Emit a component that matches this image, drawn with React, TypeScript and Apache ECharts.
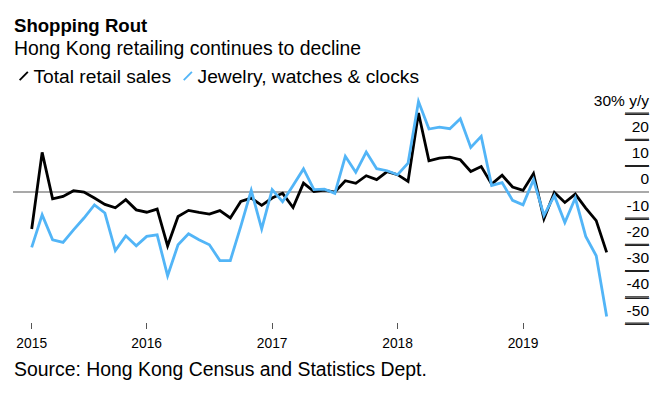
import React, { useEffect, useRef } from "react";
import * as echarts from "echarts";

const months: string[] = [
  "2015-01", "2015-02", "2015-03", "2015-04", "2015-05", "2015-06", "2015-07", "2015-08", "2015-09", "2015-10", "2015-11", "2015-12",
  "2016-01", "2016-02", "2016-03", "2016-04", "2016-05", "2016-06", "2016-07", "2016-08", "2016-09", "2016-10", "2016-11", "2016-12",
  "2017-01", "2017-02", "2017-03", "2017-04", "2017-05", "2017-06", "2017-07", "2017-08", "2017-09", "2017-10", "2017-11", "2017-12",
  "2018-01", "2018-02", "2018-03", "2018-04", "2018-05", "2018-06", "2018-07", "2018-08", "2018-09", "2018-10", "2018-11", "2018-12",
  "2019-01", "2019-02", "2019-03", "2019-04", "2019-05", "2019-06", "2019-07", "2019-08",
];

const totalRetail: number[] = [
  -14.2, 15.0, -2.7, -1.8, 0.4, -0.1, -2.4, -4.8, -6.1, -3.0, -6.9, -7.8,
  -6.6, -20.6, -9.4, -7.1, -7.9, -8.5, -7.2, -10.0, -3.7, -2.4, -5.2, -2.4,
  -0.6, -6.0, 3.3, 0.1, 0.6, -0.1, 4.2, 3.2, 6.1, 4.6, 7.7, 6.5,
  3.9, 30.0, 11.8, 12.8, 13.2, 12.2, 7.7, 9.6, 2.9, 6.3, 1.8, 0.5,
  6.9, -10.3, -0.3, -4.1, -0.9, -6.2, -11.0, -23.1,
];

const jewelry: number[] = [
  -21.2, -8.8, -18.3, -19.3, -14.5, -10.0, -5.0, -8.1, -22.4, -16.8, -20.6, -17.0,
  -16.4, -32.0, -20.2, -16.0, -18.3, -20.2, -26.2, -26.2, -13.2, 0.5, -14.1, 0.8,
  -3.8, 2.4, 8.7, 0.8, 1.0, -0.6, 13.5, 7.4, 15.1, 8.8, 8.0, 6.5,
  10.9, 34.4, 23.9, 24.6, 24.0, 27.8, 16.9, 21.1, 2.4, 3.5, -3.3, -5.0,
  4.6, -9.0, -1.5, -11.7, -2.4, -17.0, -24.4, -47.5,
];

const yearLabels: string[] = ["2015", "2016", "2017", "2018", "2019"];
const seriesNames: string[] = ["Total retail sales", "Jewelry, watches & clocks"];
const yTickValues: number[] = [30, 20, 10, 0, -10, -20, -30, -40, -50];

const FONT = '"Liberation Sans", Arial, Helvetica, sans-serif';
const BLUE = "#52b5f7";

export default function App() {
  const ref = useRef<HTMLDivElement>(null);

  useEffect(() => {
    if (!ref.current) return;
    const chart = echarts.init(ref.current, undefined, { renderer: "svg" });

    const yMin = Math.min(...yTickValues);
    const yMax = Math.max(...yTickValues);
    const yStep = yTickValues[0] - yTickValues[1];
    const xMin = -1.789;
    const xMax = 59.05;
    const tickLen = 24;

    // Jan 1 of each year ~ end of the previous December (points are month-end)
    const yearTickPos = yearLabels.map((y) =>
      Math.max(0, months.indexOf(`${y}-01`) - 1)
    );
    const posToYear: Record<number, string> = {};
    yearTickPos.forEach((p, i) => (posToYear[p] = yearLabels[i]));

    const toPairs = (arr: number[]) => arr.map((v, i) => [i, v]);

    const nSplits = (yMax - yMin) / yStep + 1;
    const zeroOnly = Array.from({ length: nSplits }, (_, i) =>
      yMin + i * yStep === 0 ? "#8c8c8c" : "rgba(0,0,0,0)"
    );

    const slash = "path://M0,8.8 L8.6,0 L10,1.2 L1.4,10 Z";

    const textGraphics: any[] = [
      {
        type: "text",
        x: 14,
        y: 25.2,
        style: {
          text: "Shopping Rout",
          font: `bold 18.6px ${FONT}`,
          fill: "#000",
          verticalAlign: "middle",
        },
      },
      {
        type: "text",
        x: 14,
        y: 48.4,
        style: {
          text: "Hong Kong retailing continues to decline",
          font: `19.4px ${FONT}`,
          fill: "#000",
          verticalAlign: "middle",
        },
      },
      {
        type: "text",
        x: 14,
        y: 369,
        style: {
          text: "Source: Hong Kong Census and Statistics Dept.",
          font: `19.4px ${FONT}`,
          fill: "#000",
          verticalAlign: "middle",
        },
      },
    ];

    chart.setOption({
      animation: false,
      backgroundColor: "#ffffff",
      textStyle: { fontFamily: FONT },
      graphic: textGraphics,
      legend: {
        left: 14,
        top: 61,
        itemWidth: 9.5,
        itemHeight: 10,
        itemGap: 12,
        data: [
          { name: seriesNames[0], icon: slash, itemStyle: { color: "#000" } },
          { name: seriesNames[1], icon: slash, itemStyle: { color: BLUE } },
        ],
        textStyle: {
          fontFamily: FONT,
          fontSize: 19.2,
          color: "#000",
          lineHeight: 20,
        },
      },
      grid: { left: 13, right: 19, top: 113, bottom: 74, containLabel: false },
      xAxis: {
        type: "value",
        min: xMin,
        max: xMax,
        axisLine: { show: false, onZero: false },
        splitLine: { show: false },
        axisTick: {
          show: true,
          customValues: yearTickPos,
          length: 6,
          lineStyle: { color: "#555", width: 1 },
        },
        axisLabel: {
          customValues: yearTickPos,
          formatter: (v: number) => posToYear[v] ?? "",
          fontFamily: FONT,
          fontSize: 13.8,
          color: "#000",
          margin: 20.5,
          verticalAlign: "middle",
        },
      },
      yAxis: {
        type: "value",
        position: "right",
        min: yMin,
        max: yMax,
        interval: yStep,
        axisLine: { show: false, onZero: false },
        axisTick: { show: false },
        splitLine: {
          show: true,
          lineStyle: { color: zeroOnly, width: 1.5 },
        },
        axisLabel: {
          inside: true,
          margin: 0,
          align: "right",
          verticalAlign: "bottom",
          padding: [0, 0, 5, 0],
          lineHeight: 16,
          backgroundColor: "transparent",
          fontFamily: FONT,
          fontSize: 15.5,
          color: "#000",
          formatter: (v: number) => (v === yMax ? `${v}% y/y` : `${v}`),
        },
      },
      series: [
        {
          name: seriesNames[0],
          type: "line",
          data: toPairs(totalRetail),
          showSymbol: false,
          clip: false,
          color: "#000",
          lineStyle: { color: "#000", width: 2.8, join: "miter" },
          z: 3,
        },
        {
          name: seriesNames[1],
          type: "line",
          data: toPairs(jewelry),
          showSymbol: false,
          clip: false,
          color: BLUE,
          lineStyle: { color: BLUE, width: 2.8, join: "miter" },
          z: 4,
        },
      ],
    });

    // Short tick marks at the right edge, placed through the chart's own scales.
    const tickPts = yTickValues
      .filter((v) => v !== 0)
      .map((v) => chart.convertToPixel({ gridIndex: 0 }, [xMax, v]) as number[])
      .filter((p) => p && isFinite(p[0]) && isFinite(p[1]));

    const tickLines = tickPts.map((p) => ({
      type: "line",
      silent: true,
      z: 100,
      zlevel: 1,
      shape: { x1: p[0] - tickLen, y1: p[1], x2: p[0], y2: p[1] },
      style: { stroke: "#222", lineWidth: 1 },
    }));

    // Fallback drawn as glyphs (an em dash is exactly 1em wide)
    const tickDashes = tickPts.map((p) => ({
      type: "text",
      silent: true,
      z: 101,
      zlevel: 1,
      x: p[0],
      y: p[1] - 1.7,
      style: {
        text: "\u2014",
        font: `${tickLen}px "Liberation Sans", Arial, sans-serif`,
        fill: "#222",
        align: "right",
        verticalAlign: "middle",
      },
    }));

    chart.setOption({ graphic: [...textGraphics, ...tickLines, ...tickDashes] });

    return () => chart.dispose();
  }, []);

  return <div ref={ref} style={{ width: 668, height: 397, position: "absolute", left: 0, top: 0 }} />;
}
